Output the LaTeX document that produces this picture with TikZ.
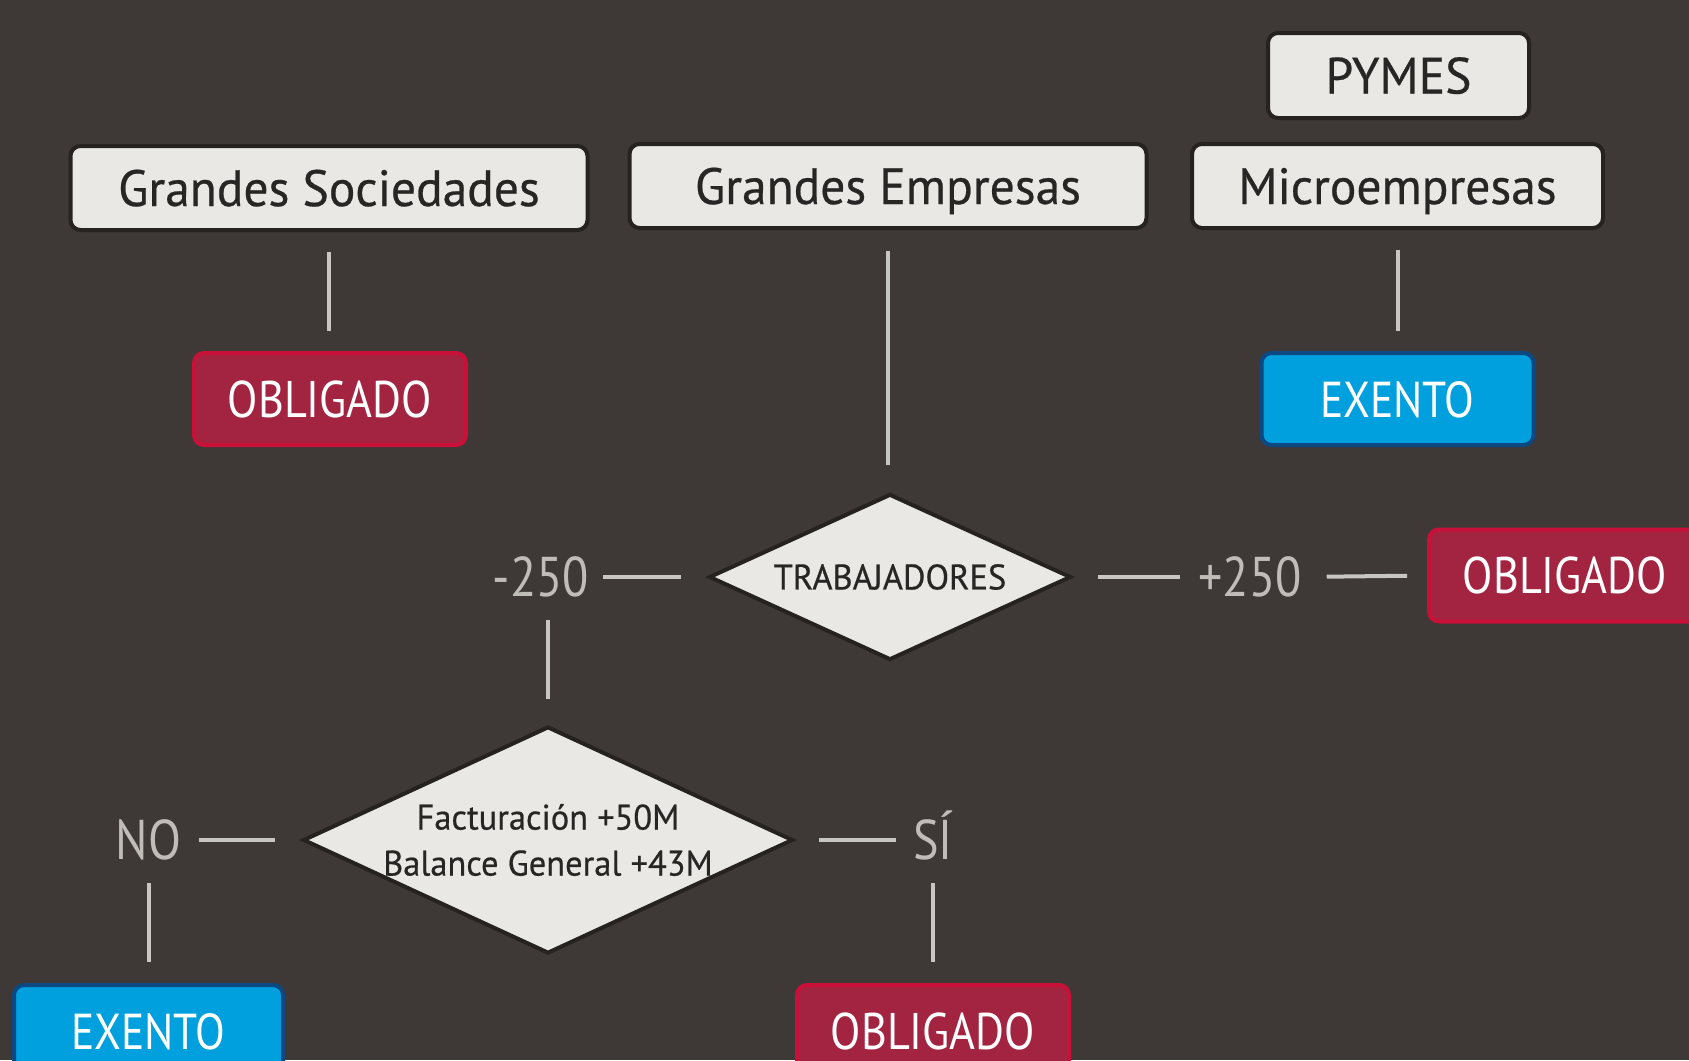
\documentclass[tikz,border=0pt]{standalone}
\usepackage{fontspec}
\setmainfont{PT Sans}[FakeStretch=0.86]
\newfontfamily\boxfont{PT Sans}[FakeStretch=0.97,FakeBold=0.5]
\usetikzlibrary{shapes.geometric}
\definecolor{bg}{RGB}{62,57,54}
\definecolor{boxfill}{RGB}{233,232,229}
\definecolor{boxline}{RGB}{38,34,32}
\definecolor{boxtext}{RGB}{40,38,36}
\definecolor{redfill}{RGB}{163,36,64}
\definecolor{redline}{RGB}{200,16,56}
\definecolor{bluefill}{RGB}{0,160,222}
\definecolor{blueline}{RGB}{12,72,130}
\definecolor{conngray}{RGB}{200,198,194}
\definecolor{lblgray}{RGB}{192,189,185}
\begin{document}
\begin{tikzpicture}[x=1pt,y=-1pt,
  catbox/.style={draw=boxline, line width=4pt, fill=boxfill, rounded corners=10pt,
    text=boxtext, font=\boxfont\fontsize{51}{60}\selectfont, minimum height=84pt,
    inner sep=0pt, text height=36pt, text depth=0pt},
  redbox/.style={draw=redline, line width=4pt, fill=redfill, rounded corners=10pt,
    text=white, font=\fontsize{51.5}{60}\selectfont, minimum width=272pt,
    minimum height=92pt, inner sep=0pt, text height=36pt, text depth=0pt},
  bluebox/.style={redbox, draw=blueline, fill=bluefill, font=\fontsize{50.5}{60}\selectfont},
  decision/.style={diamond, draw=boxline, line width=4pt, fill=boxfill, inner sep=0pt},
  dtext/.style={text=boxtext, inner sep=0pt, align=center},
  lbl/.style={text=lblgray, font=\fontsize{56}{60}\selectfont, inner sep=0pt,
    text height=38pt, text depth=0pt},
  conn/.style={draw=conngray, line width=4pt}
]
\fill[bg] (0,0) rectangle (1689,1060);
\useasboundingbox (0,0) rectangle (1689,1060);

% top categories
\node[catbox, minimum width=517pt] (gs) at (329,188) {Grandes Sociedades};
\node[catbox, minimum width=517pt] (ge) at (888,186) {Grandes Empresas};
\node[catbox, minimum width=411pt] (me) at (1397.5,186) {Microempresas};
\node[catbox, minimum width=261pt, minimum height=85pt] (py) at (1398.5,75.5) {PYMES};

% outcomes row 1
\node[redbox] (ob1) at (330,399) {OBLIGADO};
\node[bluebox] (ex1) at (1397.5,399) {EXENTO};

% trabajadores decision
\node[decision, minimum width=362pt, minimum height=166pt] (trab) at (890,577) {};
\node[dtext, font=\boxfont\fontsize{35.5}{40}\selectfont] (trabt) at (trab.center) {TRABAJADORES};
\node[lbl] (m250) at (541,577) {-250};
\node[lbl] (p250) at (1250,577) {+250};
\node[redbox] (ob2) at (1565,575.5) {OBLIGADO};

% facturacion decision
\node[decision, minimum width=490pt, minimum height=227pt] (fact) at (548,840) {};
\node[dtext, font=\boxfont\fontsize{35.5}{46}\selectfont] (factt) at (fact.center) {Facturación +50M\\Balance General +43M};
\node[lbl] (no) at (148.5,840) {NO};
\node[lbl] (si) at (933,840) {SÍ};
\node[bluebox, minimum width=269pt] (ex2) at (148.5,1031) {EXENTO};
\node[redbox] (ob3) at (933,1031) {OBLIGADO};

% connectors
\draw[conn, shorten <=20pt, shorten >=20pt] (gs.south) -- (gs.south |- ob1.north);
\draw[conn, shorten <=21pt, shorten >=27pt] (ge.south) -- (ge.south |- trab.north);
\draw[conn, shorten <=20pt, shorten >=20pt] (me.south) -- (me.south |- ex1.north);
\draw[conn, shorten <=26pt, shorten >=14pt] (trab.west) -- (m250.east);
\draw[conn, shorten <=25pt, shorten >=18pt] (trab.east) -- (p250.west);
\draw[conn, shorten <=25pt, shorten >=20pt] (p250.east) -- (ob2.west);
\draw[conn, shorten <=24pt, shorten >=26pt] (m250.south -| fact.north) -- (fact.north);
\draw[conn, shorten <=26pt, shorten >=18pt] (fact.west) -- (no.east);
\draw[conn, shorten <=24pt, shorten >=17pt] (fact.east) -- (si.west);
\draw[conn, shorten <=24pt, shorten >=21pt] (no.south) -- (no.south |- ex2.north);
\draw[conn, shorten <=24pt, shorten >=21pt] (si.south) -- (si.south |- ob3.north);
\end{tikzpicture}
\end{document}
